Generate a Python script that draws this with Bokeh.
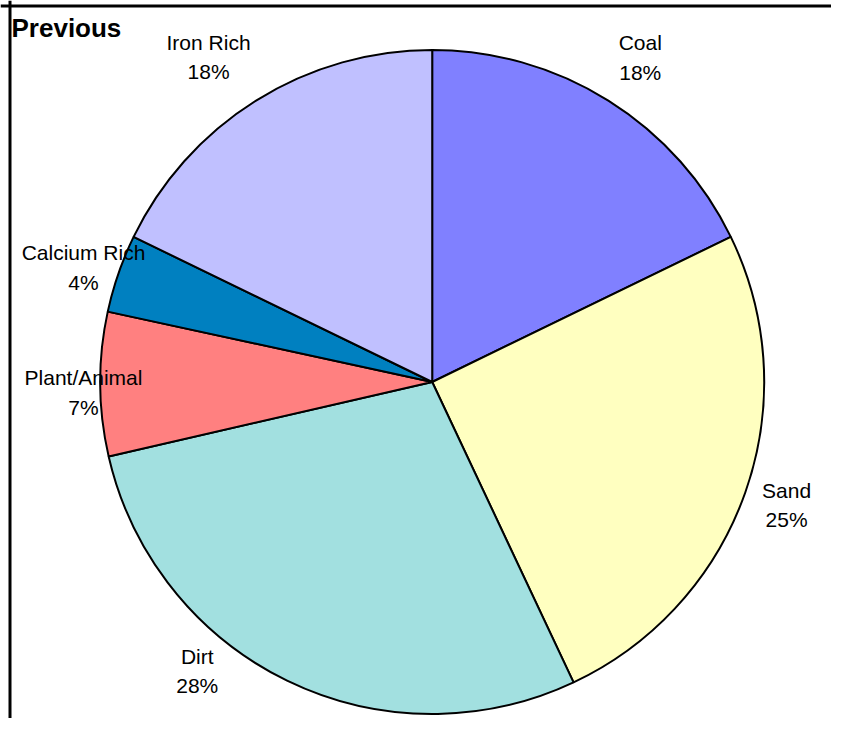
import math
from bokeh.plotting import figure
from bokeh.models import Range1d, Span, ColumnDataSource
from bokeh.core.properties import value
from bokeh.embed import file_html
from bokeh.resources import INLINE

# ---- data ----
categories = ["Coal", "Sand", "Dirt", "Plant/Animal", "Calcium Rich", "Iron Rich"]
shares = [17.8, 25.2, 28.4, 7.0, 3.8, 17.8]
colors = ["#8080FF", "#FFFFC0", "#A2E0E0", "#FF8080", "#0080C0", "#C0C0FF"]
title_text = "Previous"

# ---- layout (label placement, tuned) ----
label_nudge_deg = [-1.3, -0.9, -12.4, 2.7, 2.1, 3.2]
label_dist = [378.5, 377.9, 378.9, 349.2, 364.6, 387.6]
label_lift = 8

W, H = 831, 718
cx, cy, R = 431.7, 336.5, 332

p = figure(width=W, height=H, output_backend="svg", toolbar_location=None,
           x_range=Range1d(0, W), y_range=Range1d(0, H), min_border=0)
p.axis.visible = False
p.grid.visible = False
p.outline_line_color = None
p.background_fill_color = "white"
p.border_fill_color = "white"

total = sum(shares)
starts, ends, mids = [], [], []
cum = 0.0
for s in shares:
    a0 = math.pi / 2 - 2 * math.pi * cum / total
    cum += s
    a1 = math.pi / 2 - 2 * math.pi * cum / total
    starts.append(a0)
    ends.append(a1)
    mids.append((a0 + a1) / 2)

src = ColumnDataSource(dict(start=starts, end=ends, color=colors,
                            x=[cx] * len(shares), y=[cy] * len(shares)))
p.wedge(x="x", y="y", radius=R, radius_units="screen", start_angle="start",
        end_angle="end", direction="clock", fill_color="color",
        line_color="black", line_width=2, source=src)

lx, ly_name, ly_pct, names, pcts = [], [], [], [], []
for i, cat in enumerate(categories):
    a = mids[i] + math.radians(label_nudge_deg[i])
    ax = cx + label_dist[i] * math.cos(a)
    ay = cy + label_dist[i] * math.sin(a) + label_lift
    lx.append(ax)
    ly_name.append(ay + 15)
    ly_pct.append(ay - 14.5)
    names.append(cat)
    pcts.append(f"{round(100 * shares[i] / total)}%")

p.text(x=lx, y=ly_name, text=names, text_align="center", text_baseline="alphabetic",
       text_font=value("Liberation Sans"), text_font_size="21px", text_color="black")
p.text(x=lx, y=ly_pct, text=pcts, text_align="center", text_baseline="alphabetic",
       text_font=value("Liberation Sans"), text_font_size="21px", text_color="black")

p.text(x=[11], y=[691], text=[title_text], text_align="left", text_baseline="alphabetic",
       text_font=value("Liberation Sans"), text_font_size="26px",
       text_font_style="bold", text_color="black")

p.add_layout(Span(location=9.5, dimension="height", line_color="black", line_width=3))
p.add_layout(Span(location=712.5, dimension="width", line_color="black", line_width=3))

open("out.html", "w").write(file_html(p, INLINE))
